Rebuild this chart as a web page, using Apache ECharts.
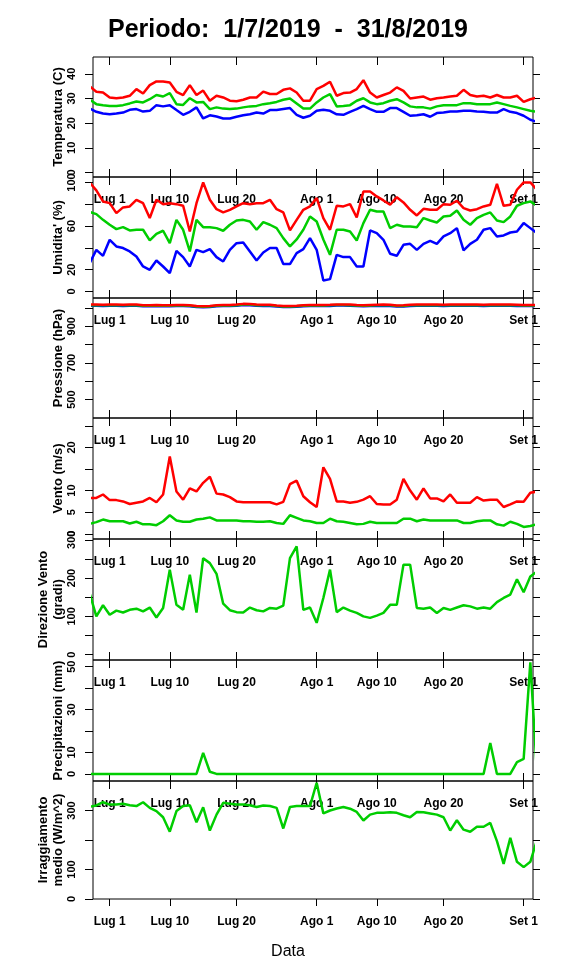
<!DOCTYPE html>
<html>
<head>
    <meta charset="UTF-8">
    <title>Meteo luglio-agosto 2019</title>
    <script src="https://cdn.jsdelivr.net/npm/echarts@6.0.0/dist/echarts.min.js"></script>
    <style>
        html, body { margin: 0; padding: 0; background: #fff; }
    </style>
</head>

<body>
    <div id="main" style="width:576px;height:972px;"></div>
    <script>
        // giorni contati dal 1 luglio 2019 (0 = Lug 1)
        var days = [-3, -2, -1, 0, 1, 2, 3, 4, 5, 6, 7, 8, 9, 10, 11, 12, 13, 14, 15, 16,
            17, 18, 19, 20, 21, 22, 23, 24, 25, 26, 27, 28, 29, 30, 31, 32, 33, 34, 35, 36,
            37, 38, 39, 40, 41, 42, 43, 44, 45, 46, 47, 48, 49, 50, 51, 52, 53, 54, 55, 56,
            57, 58, 59, 60, 61, 62, 63, 64];
        var tickDays = [0, 9, 19, 31, 40, 50, 62];
        var tickLabels = ['Lug 1', 'Lug 10', 'Lug 20', 'Ago 1', 'Ago 10', 'Ago 20', 'Set 1'];

        // temperatura (C)
        var tMax = [34.9, 32.7, 32.4, 30.4, 30.1, 30.4, 31.1, 33.8, 32.0, 35.4, 36.9, 36.9, 36.5, 32.7, 31.4, 35.4, 31.4, 33.2, 29.1, 31.1,
            30.4, 29.1, 28.9, 29.5, 30.4, 30.4, 32.8, 31.8, 31.8, 33.5, 34.1, 32.4, 29.1, 29.1, 33.8, 35.1, 36.8, 31.1, 32.2, 32.4,
            33.8, 37.4, 32.4, 30.4, 31.4, 32.4, 34.5, 33.1, 30.0, 30.4, 30.8, 29.5, 30.1, 30.4, 30.8, 31.1, 33.5, 31.4, 30.8, 31.1,
            30.4, 31.4, 30.4, 30.4, 31.1, 28.6, 29.7, 30.4];
        var tMean = [29.5, 27.7, 27.3, 27.0, 27.0, 27.3, 28.0, 28.8, 28.4, 29.7, 31.4, 30.8, 32.2, 27.7, 27.4, 30.1, 28.4, 28.6, 25.7, 26.4,
            25.9, 25.7, 25.9, 26.4, 26.8, 27.0, 27.7, 28.1, 28.6, 29.5, 30.0, 28.0, 25.9, 25.9, 28.4, 30.4, 31.8, 26.8, 27.0, 27.3,
            29.1, 30.1, 28.4, 27.7, 28.1, 29.1, 29.7, 28.4, 26.8, 26.4, 26.4, 25.9, 26.8, 27.3, 27.3, 27.3, 28.1, 28.1, 27.7, 27.7,
            27.7, 28.4, 27.7, 27.0, 26.4, 25.7, 25.0, 24.6];
        var tMin = [26.0, 24.6, 23.9, 23.6, 23.9, 24.3, 25.4, 25.7, 24.7, 25.0, 27.3, 26.8, 27.3, 25.3, 23.4, 24.6, 26.4, 21.9, 23.2, 22.7,
            21.9, 21.9, 22.6, 23.2, 23.6, 24.3, 23.9, 25.3, 25.3, 25.7, 26.1, 23.4, 22.2, 23.0, 25.0, 25.4, 25.0, 23.6, 23.4, 24.6,
            25.7, 27.0, 25.7, 24.6, 24.6, 26.1, 26.1, 24.6, 23.0, 23.2, 23.6, 22.6, 24.1, 24.3, 24.7, 24.7, 25.0, 25.0, 24.7, 24.6,
            24.3, 24.3, 25.7, 24.6, 24.1, 23.0, 21.4, 20.5];

        // umidita' (%)
        var hMax = [99.9, 92.7, 82.6, 81.0, 71.9, 77.1, 78.0, 84.1, 81.0, 67.3, 84.1, 80.1, 81.0, 80.1, 78.6, 55.0, 81.0, 100, 84.1, 75.5,
            72.5, 74.9, 78.0, 81.0, 80.1, 81.0, 81.0, 84.1, 75.5, 72.5, 56.0, 65.7, 74.9, 78.0, 85.6, 67.3, 56.6, 78.6, 78.0, 80.1,
            67.9, 91.7, 91.7, 87.2, 83.5, 79.5, 86.5, 81.7, 74.9, 69.7, 75.8, 74.9, 74.9, 80.1, 79.5, 83.2, 76.5, 74.3, 75.5, 78.0,
            79.5, 98.8, 78.6, 79.5, 93.3, 100, 100, 93.3];
        var hMean = [72.9, 70.9, 65.7, 61.2, 57.2, 59.0, 56.0, 56.6, 56.6, 46.8, 52.9, 55.7, 44.3, 65.7, 56.6, 36.7, 65.7, 59.0, 59.0, 58.1,
            55.7, 61.2, 65.1, 65.7, 64.2, 56.6, 63.6, 61.2, 58.1, 48.9, 41.3, 47.7, 56.6, 68.8, 64.2, 47.7, 33.6, 56.6, 56.6, 55.0,
            46.8, 62.7, 74.9, 73.4, 73.4, 58.1, 61.2, 59.6, 59.6, 59.0, 67.3, 65.1, 63.3, 68.8, 69.4, 74.3, 65.7, 61.2, 67.3, 70.3,
            72.5, 65.1, 63.6, 68.8, 78.6, 81.0, 82.6, 78.6];
        var hMin = [26.0, 38.2, 32.7, 47.4, 41.3, 39.8, 36.7, 32.1, 22.9, 19.9, 28.4, 22.9, 16.8, 37.3, 31.5, 22.9, 38.2, 36.1, 38.8, 31.5,
            27.5, 38.2, 44.3, 45.0, 36.7, 28.4, 35.8, 39.8, 39.8, 25.1, 25.1, 35.2, 38.8, 48.9, 38.2, 10.1, 11.3, 33.6, 31.5, 31.5,
            22.9, 22.9, 56.0, 53.5, 47.4, 34.6, 32.7, 42.8, 43.7, 38.2, 43.7, 46.5, 43.7, 50.5, 53.5, 58.1, 37.6, 43.7, 47.4, 56.6,
            58.1, 50.5, 51.4, 54.1, 55.0, 62.7, 58.1, 53.5];

        // pressione (hPa)
        var pMax = [1018, 1018, 1017, 1018, 1018, 1017, 1018, 1018, 1015, 1015, 1016, 1015, 1015, 1016, 1016, 1015, 1011, 1009, 1011, 1015,
            1016, 1016, 1018, 1022, 1021, 1018, 1017, 1017, 1013, 1011, 1011, 1012, 1015, 1016, 1016, 1016, 1017, 1019, 1019, 1018,
            1016, 1015, 1016, 1017, 1018, 1017, 1013, 1014, 1017, 1018, 1018, 1018, 1018, 1017, 1018, 1018, 1018, 1018, 1018, 1017,
            1018, 1018, 1018, 1018, 1017, 1016, 1016, 1016];
        var pMean = [1015, 1015, 1014, 1015, 1015, 1014, 1015, 1015, 1012, 1012, 1013, 1012, 1012, 1013, 1013, 1012, 1008, 1006, 1008, 1012,
            1013, 1013, 1015, 1019, 1018, 1015, 1014, 1014, 1010, 1008, 1008, 1009, 1012, 1013, 1013, 1013, 1014, 1016, 1016, 1015,
            1013, 1012, 1013, 1014, 1015, 1014, 1010, 1011, 1014, 1015, 1015, 1015, 1015, 1014, 1015, 1015, 1015, 1015, 1015, 1014,
            1015, 1015, 1015, 1015, 1014, 1013, 1013, 1013];
        var pMin = [1012, 1012, 1011, 1012, 1012, 1011, 1012, 1012, 1009, 1009, 1010, 1009, 1009, 1010, 1010, 1009, 1005, 1003, 1005, 1009,
            1010, 1010, 1012, 1016, 1015, 1012, 1011, 1011, 1007, 1005, 1005, 1006, 1009, 1010, 1010, 1010, 1011, 1013, 1013, 1012,
            1010, 1009, 1010, 1011, 1012, 1011, 1007, 1008, 1011, 1012, 1012, 1012, 1012, 1011, 1012, 1012, 1012, 1012, 1012, 1011,
            1012, 1012, 1012, 1012, 1011, 1010, 1010, 1010];

        // vento (m/s): raffica massima e media
        var windMax = [8.3, 8.3, 9.1, 7.8, 7.8, 7.5, 6.9, 7.2, 7.5, 8.3, 7.3, 9.1, 17.9, 9.8, 7.9, 10.5, 9.8, 11.8, 13.2, 9.3,
            9.1, 8.5, 7.5, 7.3, 7.3, 7.3, 7.3, 7.3, 6.8, 7.4, 11.5, 12.3, 8.7, 7.3, 6.2, 15.4, 12.7, 7.5, 7.5, 7.2,
            7.4, 7.9, 8.7, 6.9, 6.8, 6.8, 7.9, 12.7, 10.0, 7.9, 10.5, 8.2, 8.2, 7.5, 9.1, 7.2, 7.2, 7.2, 8.5, 7.7,
            7.9, 7.9, 6.2, 6.8, 7.5, 7.4, 9.5, 9.8];
        var windMean = [2.3, 2.7, 3.3, 2.9, 2.9, 2.9, 2.4, 2.8, 2.2, 2.2, 2.0, 2.9, 4.3, 3.1, 2.8, 2.8, 3.3, 3.5, 3.8, 3.1,
            3.1, 3.1, 3.1, 2.9, 2.9, 2.8, 2.8, 2.9, 2.5, 2.3, 4.3, 3.7, 3.1, 2.9, 2.5, 2.5, 3.5, 2.9, 2.8, 2.5,
            2.2, 2.3, 2.8, 2.5, 2.5, 2.5, 2.5, 3.5, 3.5, 2.9, 3.3, 3.1, 3.1, 3.1, 3.1, 3.1, 2.5, 2.5, 2.9, 3.1,
            3.1, 2.2, 1.9, 2.8, 2.3, 1.6, 1.8, 2.2];

        // direzione vento (gradi)
        var windDir = [160, 100, 129, 104, 115, 110, 117, 120, 113, 123, 97, 122, 222, 130, 117, 209, 110, 252, 239, 211,
            133, 116, 111, 110, 123, 116, 113, 122, 120, 128, 252, 283, 117, 123, 83, 148, 222, 111, 123, 115,
            109, 100, 96, 102, 109, 130, 130, 235, 235, 122, 120, 123, 109, 122, 117, 123, 129, 126, 120, 123,
            120, 137, 148, 157, 197, 163, 204, 217];

        // precipitazioni (mm)
        var rain = [0, 0, 0, 0, 0, 0, 0, 0, 0, 0, 0, 0, 0, 0, 0, 0, 0, 9.8, 1.0, 0,
            0, 0, 0, 0, 0, 0, 0, 0, 0, 0, 0, 0, 0, 0, 0, 0, 0, 0, 0, 0,
            0, 0, 0, 0, 0, 0, 0, 0, 0, 0, 0, 0, 0, 0, 0, 0, 0, 0, 0, 0,
            14.4, 0, 0, 0, 5.5, 7, 52, 0];

        // irraggiamento medio (W/m^2)
        var solar = [313, 317, 328, 320, 320, 323, 318, 315, 328, 309, 298, 277, 228, 298, 315, 318, 260, 311, 232, 286,
            326, 323, 320, 320, 318, 312, 317, 315, 309, 239, 312, 315, 315, 315, 394, 290, 300, 307, 312, 306,
            295, 266, 286, 292, 292, 294, 292, 284, 277, 295, 294, 290, 286, 277, 232, 267, 235, 228, 245, 245,
            258, 196, 119, 207, 126, 108, 126, 200];

        var RED = '#FF0000', GREEN = '#00CD00', BLUE = '#0000FF';
        var FONT = 'Liberation Sans';

        // bordi dei pannelli (px) e scale verticali
        var edges = [57, 177, 298, 418, 539, 660, 781, 899];
        var panels = [
            { name: 'Temperatura (C)', min: -1.8, max: 46.8, ticks: [0, 10, 20, 30, 40], labels: [0, 10, 20, 30, 40],
              lines: [[tMin, BLUE], [tMean, GREEN], [tMax, RED]] },
            { name: "Umidita' (%)", min: -6, max: 105, ticks: [0, 20, 40, 60, 80, 100], labels: [0, 20, 60, 100],
              lines: [[hMin, BLUE], [hMean, GREEN], [hMax, RED]] },
            { name: 'Pressione (hPa)', min: 400, max: 1054, ticks: [500, 600, 700, 800, 900, 1000], labels: [500, 700, 900],
              lines: [[pMin, BLUE], [pMean, GREEN], [pMax, RED]] },
            { name: 'Vento (m/s)', min: -1.2, max: 26.8, ticks: [0, 5, 10, 15, 20, 25], labels: [0, 5, 10, 20],
              lines: [[windMean, GREEN], [windMax, RED]] },
            { name: 'Direzione Vento\n(gradi)', min: -14, max: 302, ticks: [0, 50, 100, 150, 200, 250, 300], labels: [0, 100, 200, 300],
              lines: [[windDir, GREEN]] },
            { name: 'Precipitazioni (mm)', min: -3.3, max: 53.1, ticks: [0, 10, 20, 30, 40, 50], labels: [0, 10, 30, 50],
              lines: [[rain, GREEN]] },
            { name: 'Irraggiamento\nmedio (W/m^2)', min: 0, max: 400, ticks: [0, 100, 200, 300], labels: [0, 100, 300],
              lines: [[solar, GREEN]] }
        ];

        var grid = [], xAxis = [], yAxis = [], series = [];
        var xMin = -2.5, xMax = 63.4;

        panels.forEach(function (p, i) {
            var last = i === panels.length - 1;
            grid.push({
                left: 93, width: 440, top: edges[i], height: edges[i + 1] - edges[i],
                show: true, borderColor: '#000', borderWidth: 1, backgroundColor: 'transparent',
                containLabel: false, outerBoundsMode: 'none'
            });
            // asse in basso (etichette delle date)
            xAxis.push({
                gridIndex: i, type: 'value', position: 'bottom', min: xMin, max: xMax,
                axisLine: { show: false, onZero: false },
                splitLine: { show: false },
                axisTick: { inside: !last, length: last ? 7 : 8, customValues: tickDays,
                    lineStyle: { color: '#000', width: 1 } },
                axisLabel: {
                    customValues: tickDays, margin: 17,
                    fontFamily: FONT, fontSize: 12, fontWeight: 'bold', color: '#000', lineHeight: 12,
                    formatter: function (v) {
                        var k = tickDays.indexOf(v);
                        return k >= 0 ? tickLabels[k] : '';
                    }
                }
            });
            // asse in alto (solo tacche)
            xAxis.push({
                gridIndex: i, type: 'value', position: 'top', min: xMin, max: xMax,
                axisLine: { show: false, onZero: false },
                splitLine: { show: false },
                axisTick: { inside: true, length: 8, customValues: tickDays,
                    lineStyle: { color: '#000', width: 1 } },
                axisLabel: { show: false }
            });
            yAxis.push({
                gridIndex: i, type: 'value', position: 'left', min: p.min, max: p.max,
                name: p.name, nameLocation: 'middle', nameRotate: 90, nameGap: 27, nameMoveOverlap: false,
                nameTextStyle: { fontFamily: FONT, fontSize: 13, fontWeight: 'bold', color: '#000', lineHeight: 15 },
                axisLine: { show: false, onZero: false },
                splitLine: { show: false },
                axisTick: { length: 8, customValues: p.ticks, lineStyle: { color: '#000', width: 1 } },
                axisLabel: {
                    customValues: p.labels, rotate: 90, margin: 16,
                    fontFamily: FONT, fontSize: 11, fontWeight: 'bold', color: '#000', lineHeight: 11
                }
            });
            yAxis.push({
                gridIndex: i, type: 'value', position: 'right', min: p.min, max: p.max,
                axisLine: { show: false, onZero: false },
                splitLine: { show: false },
                axisTick: { length: 7, customValues: p.ticks, lineStyle: { color: '#000', width: 1 } },
                axisLabel: { show: false }
            });
            p.lines.forEach(function (ln) {
                series.push({
                    type: 'line',
                    xAxisIndex: 2 * i,
                    yAxisIndex: 2 * i,
                    data: days.map(function (d, k) { return [d, ln[0][k]]; }),
                    symbol: 'none',
                    color: ln[1],
                    lineStyle: { color: ln[1], width: 2.5 },
                    emphasis: { disabled: true },
                    clip: true
                });
            });
        });

        var myChart = echarts.init(document.getElementById('main'));
        var option = {
            backgroundColor: '#fff',
            animation: false,
            textStyle: { fontFamily: FONT },
            title: [
                {
                    text: 'Periodo:  1/7/2019  -  31/8/2019',
                    left: 'center', top: 13,
                    textStyle: { fontFamily: FONT, fontSize: 25, fontWeight: 'bold', color: '#000' }
                },
                {
                    text: 'Data',
                    left: 'center', top: 939,
                    textStyle: { fontFamily: FONT, fontSize: 16, fontWeight: 'normal', color: '#000' }
                }
            ],
            grid: grid,
            xAxis: xAxis,
            yAxis: yAxis,
            series: series
        };
        myChart.setOption(option);
    </script>
</body>

</html>
